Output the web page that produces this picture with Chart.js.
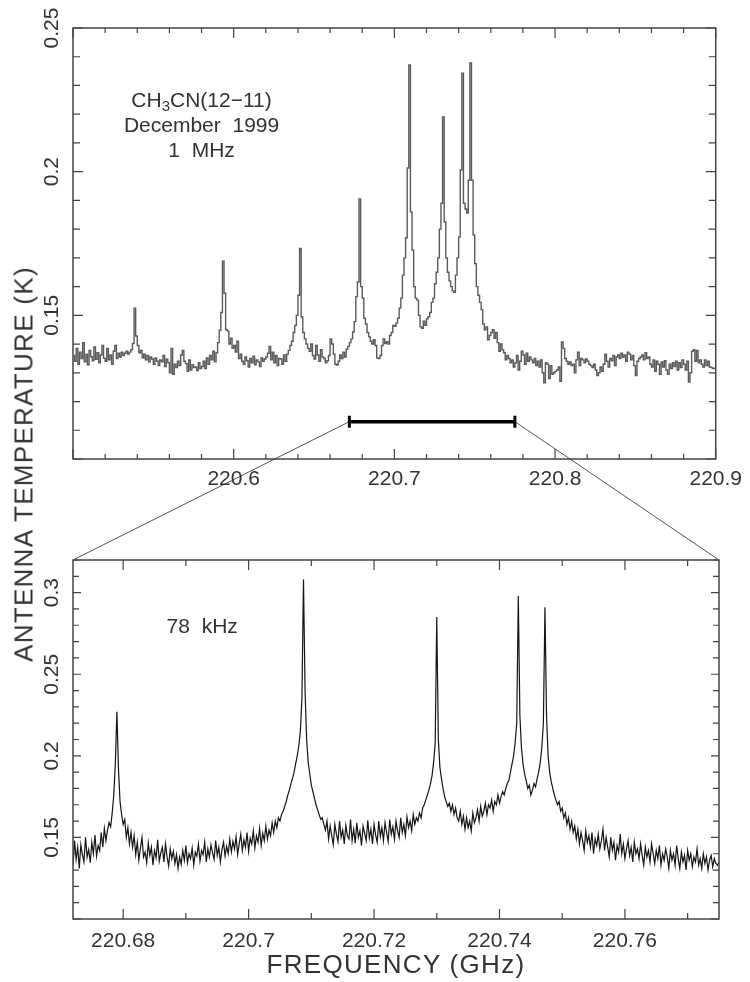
<!DOCTYPE html>
<html>
<head>
<meta charset="utf-8">
<script src="https://cdn.jsdelivr.net/npm/chart.js@4.4.1/dist/chart.umd.min.js"></script>
<style>
  html, body { margin: 0; padding: 0; background: #fff; }
  #page { position: relative; width: 750px; height: 982px; overflow: hidden;
          font-family: "Liberation Sans", Arial, sans-serif; color: #333; }
  canvas { position: absolute; left: 0; top: 0; }
  .axis-title { position: absolute; white-space: nowrap; font-size: 26px; letter-spacing: 1.3px;
                transform: translate(-50%, -50%); }
  #ytitle { left: 24px; top: 464px; transform: translate(-50%, -50%) rotate(-90deg); }
  #xtitle { left: 396px; top: 964px; }
</style>
</head>
<body>
<div id="page">
  <canvas id="zoomChart" width="750" height="982"></canvas>
  <canvas id="wideChart" width="750" height="500"></canvas>
  <div class="axis-title" id="ytitle">ANTENNA TEMPERATURE (K)</div>
  <div class="axis-title" id="xtitle">FREQUENCY (GHz)</div>
</div>
<script>
// CH3CN(12-11), 1 MHz channels, first channel centre 220.5005 GHz
const wideStart = 220.5005;
const wideStep = 0.001;
const wideTemp = [
  0.1360,0.1340,0.1385,0.1330,0.1372,0.1350,0.1405,0.1338,0.1365,0.1328,0.1378,0.1356,0.1342,0.1390,0.1347,0.1370,0.1335,0.1362,0.1395,0.1351,
  0.1340,0.1385,0.1345,0.1362,0.1330,0.1375,0.1395,0.1350,0.1368,0.1355,0.1372,0.1360,0.1368,0.1375,0.1365,0.1372,0.1380,0.1402,0.1525,0.1428,
  0.1395,0.1370,0.1378,0.1352,0.1365,0.1345,0.1360,0.1338,0.1355,0.1348,0.1330,0.1352,0.1340,0.1325,0.1345,0.1338,0.1360,0.1322,0.1347,0.1335,
  0.1300,0.1385,0.1295,0.1330,0.1318,0.1340,0.1325,0.1362,0.1378,0.1340,0.1332,0.1305,0.1345,0.1310,0.1328,0.1318,0.1320,0.1308,0.1335,0.1315,
  0.1322,0.1340,0.1315,0.1352,0.1330,0.1360,0.1345,0.1375,0.1338,0.1370,0.1405,0.1448,0.1510,0.1688,0.1577,0.1450,0.1445,0.1400,0.1420,0.1385,
  0.1395,0.1372,0.1410,0.1350,0.1365,0.1340,0.1330,0.1355,0.1342,0.1320,0.1350,0.1335,0.1358,0.1328,0.1345,0.1338,0.1322,0.1352,0.1340,0.1348,
  0.1355,0.1368,0.1392,0.1345,0.1372,0.1335,0.1360,0.1325,0.1350,0.1348,0.1330,0.1362,0.1340,0.1365,0.1378,0.1395,0.1410,0.1440,0.1465,0.1500,
  0.1570,0.1733,0.1494,0.1440,0.1418,0.1400,0.1385,0.1375,0.1400,0.1360,0.1348,0.1395,0.1362,0.1340,0.1380,0.1355,0.1350,0.1335,0.1342,0.1360,
  0.1418,0.1400,0.1365,0.1330,0.1327,0.1340,0.1362,0.1350,0.1372,0.1355,0.1382,0.1392,0.1405,0.1418,0.1442,0.1478,0.1565,0.1616,0.1905,0.1600,
  0.1560,0.1490,0.1470,0.1440,0.1425,0.1410,0.1400,0.1415,0.1395,0.1352,0.1350,0.1360,0.1395,0.1418,0.1402,0.1408,0.1400,0.1430,0.1440,0.1465,
  0.1462,0.1473,0.1490,0.1525,0.1560,0.1640,0.1700,0.1770,0.2013,0.2371,0.1860,0.1727,0.1600,0.1560,0.1553,0.1500,0.1460,0.1455,0.1480,0.1465,
  0.1488,0.1495,0.1510,0.1545,0.1560,0.1610,0.1650,0.1700,0.1800,0.1890,0.2190,0.1825,0.1700,0.1650,0.1620,0.1600,0.1585,0.1580,0.1640,0.1700,
  0.1773,0.2006,0.2343,0.1890,0.1870,0.1856,0.1970,0.2378,0.1970,0.1780,0.1680,0.1600,0.1570,0.1545,0.1520,0.1470,0.1450,0.1460,0.1415,0.1430,
  0.1440,0.1450,0.1420,0.1440,0.1405,0.1375,0.1400,0.1380,0.1370,0.1345,0.1360,0.1350,0.1335,0.1345,0.1320,0.1335,0.1360,0.1310,0.1340,0.1375,
  0.1362,0.1330,0.1368,0.1340,0.1355,0.1345,0.1335,0.1350,0.1325,0.1340,0.1320,0.1345,0.1300,0.1265,0.1335,0.1330,0.1280,0.1325,0.1295,0.1300,
  0.1305,0.1310,0.1320,0.1270,0.1407,0.1385,0.1350,0.1340,0.1330,0.1338,0.1325,0.1330,0.1300,0.1345,0.1372,0.1325,0.1350,0.1345,0.1335,0.1348,
  0.1340,0.1330,0.1325,0.1318,0.1330,0.1310,0.1290,0.1300,0.1320,0.1305,0.1330,0.1365,0.1340,0.1320,0.1350,0.1342,0.1360,0.1325,0.1355,0.1362,
  0.1350,0.1368,0.1355,0.1362,0.1340,0.1372,0.1365,0.1345,0.1360,0.1325,0.1290,0.1340,0.1350,0.1355,0.1362,0.1345,0.1370,0.1350,0.1355,0.1330,
  0.1320,0.1345,0.1305,0.1340,0.1330,0.1295,0.1338,0.1320,0.1342,0.1310,0.1295,0.1330,0.1315,0.1335,0.1322,0.1340,0.1310,0.1335,0.1318,0.1345,
  0.1330,0.1310,0.1340,0.1268,0.1300,0.1375,0.1380,0.1340,0.1378,0.1335,0.1345,0.1330,0.1320,0.1345,0.1325,0.1340,0.1320,0.1318,0.1315,0.1316
];

const zoomStart = 220.672;
const zoomStep = 0.00025;
const zoomTemp = [
  0.1330,0.1480,0.1365,0.1440,0.1310,0.1455,0.1395,0.1350,0.1500,0.1380,0.1425,0.1345,0.1470,0.1400,0.1515,0.1385,0.1450,0.1420,
  0.1530,0.1440,0.1555,0.1480,0.1545,0.1590,0.1565,0.1650,0.1760,0.1950,
  0.2270,
  0.1920,0.1720,0.1640,0.1580,0.1610,0.1500,0.1560,0.1460,0.1530,0.1440,0.1510,
  0.1395,0.1470,0.1360,0.1435,0.1500,0.1380,0.1410,0.1345,0.1465,0.1390,0.1440,0.1330,0.1420,0.1375,0.1485,0.1355,0.1405,0.1440,0.1350,0.1460,
  0.1380,0.1325,0.1430,0.1370,0.1415,0.1340,0.1395,0.1310,0.1380,0.1335,0.1420,0.1360,0.1450,0.1345,0.1400,0.1370,0.1435,0.1330,0.1410,0.1385,
  0.1460,0.1355,0.1420,0.1395,0.1470,0.1350,0.1430,0.1380,0.1455,0.1405,0.1365,0.1480,0.1390,0.1440,0.1350,0.1425,0.1470,0.1385,0.1445,0.1400,
  0.1490,0.1410,0.1475,0.1430,0.1505,0.1395,0.1460,0.1520,0.1420,0.1485,0.1440,0.1530,0.1415,0.1495,0.1460,0.1540,0.1435,0.1510,0.1470,0.1555,
  0.1450,0.1525,0.1480,0.1570,0.1490,0.1545,0.1510,0.1590,0.1530,0.1600,0.1560,0.1620,0.1600,0.1640,0.1660,0.1690,0.1720,0.1760,0.1790,0.1830,
  0.1860,0.1900,0.1950,0.2000,0.2060,0.2150,0.2350,
  0.3080,
  0.2400,0.2100,0.1960,0.1890,0.1820,0.1780,0.1740,0.1700,0.1670,0.1640,0.1610,0.1620,0.1580,
  0.1545,0.1600,0.1490,0.1570,0.1510,0.1455,0.1580,0.1520,0.1475,0.1600,0.1500,0.1545,0.1460,0.1575,0.1510,0.1490,0.1610,0.1480,0.1550,0.1465,
  0.1590,0.1500,0.1540,0.1450,0.1570,0.1525,0.1480,0.1605,0.1495,0.1550,0.1460,0.1580,0.1515,0.1470,0.1600,0.1505,0.1560,0.1480,0.1590,0.1530,
  0.1475,0.1610,0.1520,0.1565,0.1490,0.1600,0.1540,0.1500,0.1620,0.1530,0.1580,0.1510,0.1625,0.1560,0.1600,0.1540,0.1640,0.1580,0.1620,0.1600,
  0.1650,0.1620,0.1680,0.1700,0.1730,0.1760,0.1790,0.1830,0.1880,0.1960,0.2080,
  0.2850,
  0.2100,0.1930,0.1860,0.1800,0.1750,0.1720,0.1690,0.1710,0.1660,0.1700,0.1640,0.1680,0.1620,
  0.1600,0.1660,0.1580,0.1630,0.1550,0.1620,0.1560,0.1600,0.1540,0.1650,0.1590,0.1620,0.1670,0.1600,0.1690,0.1630,0.1660,0.1710,0.1640,0.1700,
  0.1680,0.1730,0.1660,0.1720,0.1700,0.1760,0.1710,0.1750,0.1780,0.1760,0.1800,0.1830,0.1850,0.1900,0.1950,0.2000,0.2080,0.2200,
  0.2980,
  0.2250,0.2050,0.1950,0.1890,0.1850,0.1800,0.1820,0.1760,0.1790,0.1830,0.1810,0.1860,0.1900,0.1960,0.2050,0.2200,
  0.2910,
  0.2250,0.2000,0.1900,0.1840,0.1800,0.1760,0.1730,0.1700,0.1720,0.1660,0.1680,0.1620,0.1650,0.1580,0.1620,0.1550,0.1600,0.1530,0.1570,
  0.1490,0.1550,0.1460,0.1530,0.1480,0.1420,0.1540,0.1470,0.1510,0.1440,0.1530,0.1400,0.1490,0.1450,0.1520,0.1430,0.1480,0.1550,0.1420,0.1500,
  0.1440,0.1380,0.1500,0.1420,0.1470,0.1360,0.1450,0.1410,0.1520,0.1400,0.1460,0.1370,0.1430,0.1480,0.1390,0.1440,0.1350,0.1470,0.1400,0.1430,
  0.1370,0.1460,0.1390,0.1330,0.1440,0.1380,0.1420,0.1350,0.1460,0.1400,0.1340,0.1420,0.1370,0.1450,0.1330,0.1400,0.1360,0.1430,0.1380,0.1310,
  0.1420,0.1360,0.1400,0.1330,0.1450,0.1370,0.1310,0.1410,0.1350,0.1390,0.1300,0.1420,0.1360,0.1400,0.1320,0.1380,0.1350,0.1430,0.1330,0.1370,
  0.1310,0.1400,0.1340,0.1380,0.1300,0.1360,0.1390,0.1320,0.1370,0.1340,0.1330,0.1350
];

// part of the wide band shown below, and where its marker bar sits
const zoomRange = [220.672, 220.775];
const zoomBarLevel = 0.113;

// labelled ticks
const wideXLabels = [220.6, 220.7, 220.8, 220.9];
const wideYLabels = [0.15, 0.2, 0.25];
const zoomXLabels = [220.68, 220.7, 220.72, 220.74, 220.76];
const zoomYLabels = [0.15, 0.2, 0.25, 0.3];

Chart.defaults.font.family = '"Liberation Sans", Arial, sans-serif';
Chart.defaults.color = '#333';

const fmt = v => String(+v.toFixed(3));
const labelFrom = list => v => list.some(t => Math.abs(t - v) < 1e-6) ? fmt(v) : '';

// inward tick marks on all four sides plus the box
function frameTicks(o) {
  return {
    id: 'frameTicks',
    afterDatasetsDraw(chart) {
      const { ctx, chartArea: a, scales: { x, y } } = chart;
      const isMajor = (v, m) => Math.abs(v / m - Math.round(v / m)) < 1e-4;
      ctx.save();
      ctx.strokeStyle = '#444';
      ctx.lineWidth = 1.2;
      ctx.beginPath();
      for (let k = Math.ceil(x.min / o.xMinor - 1e-6); k * o.xMinor <= x.max + 1e-9; k++) {
        const v = k * o.xMinor;
        const px = x.getPixelForValue(v);
        const len = isMajor(v, o.xMajor) ? o.xLong : o.xShort;
        ctx.moveTo(px, a.bottom); ctx.lineTo(px, a.bottom - len);
        ctx.moveTo(px, a.top); ctx.lineTo(px, a.top + len);
      }
      for (let k = Math.ceil(y.min / o.yMinor - 1e-6); k * o.yMinor <= y.max + 1e-9; k++) {
        const v = k * o.yMinor;
        const py = y.getPixelForValue(v);
        const len = isMajor(v, o.yMajor) ? o.yLong : o.yShort;
        ctx.moveTo(a.left, py); ctx.lineTo(a.left + len, py);
        ctx.moveTo(a.right, py); ctx.lineTo(a.right - len, py);
      }
      ctx.stroke();
      ctx.lineWidth = 1.5;
      ctx.strokeRect(a.left, a.top, a.right - a.left, a.bottom - a.top);
      ctx.restore();
    }
  };
}

// text lines; a part given as [text, true] is set as a subscript
function notes(lines) {
  return {
    id: 'notes',
    afterDraw(chart) {
      const { ctx, scales: { x, y } } = chart;
      const big = '21px "Liberation Sans", Arial, sans-serif';
      const small = '15px "Liberation Sans", Arial, sans-serif';
      ctx.save();
      ctx.fillStyle = '#333';
      ctx.textBaseline = 'middle';
      ctx.textAlign = 'left';
      lines.forEach(line => {
        const cx = x.getPixelForValue(line.x);
        const cy = y.getPixelForValue(line.y) + line.dy;
        let w = 0;
        line.parts.forEach(([t, sub]) => { ctx.font = sub ? small : big; w += ctx.measureText(t).width; });
        let px = cx - w / 2;
        line.parts.forEach(([t, sub]) => {
          ctx.font = sub ? small : big;
          ctx.fillText(t, px, cy + (sub ? 6 : 0));
          px += ctx.measureText(t).width;
        });
      });
      ctx.restore();
    }
  };
}

function axisOptions(xMin, xMax, xStep, xLabels, xHeight, xPad, yMin, yMax, yLabels) {
  return {
    x: {
      type: 'linear', min: xMin, max: xMax,
      grid: { display: false, drawTicks: false }, border: { display: false },
      ticks: { stepSize: xStep, includeBounds: false, autoSkip: false, maxRotation: 0,
               padding: xPad, font: { size: 21 }, color: '#333', callback: labelFrom(xLabels) },
      afterFit: s => { s.height = xHeight; }
    },
    y: {
      type: 'linear', min: yMin, max: yMax,
      grid: { display: false, drawTicks: false }, border: { display: false },
      ticks: { stepSize: 0.05, includeBounds: false, autoSkip: false, minRotation: 90, maxRotation: 90,
               crossAlign: 'center', padding: 0, font: { size: 21 }, color: '#333', callback: labelFrom(yLabels) },
      afterFit: s => { s.width = 73; }
    }
  };
}

const wideChart = new Chart(document.getElementById('wideChart'), {
  type: 'line',
  data: {
    datasets: [
      {
        data: wideTemp.map((t, i) => ({ x: wideStart + i * wideStep, y: t })),
        stepped: 'middle', borderColor: '#5a5a5a', borderWidth: 1.4, pointRadius: 0
      },
      {
        data: zoomRange.map(f => ({ x: f, y: zoomBarLevel })),
        borderColor: '#000', borderWidth: 3.5,
        pointStyle: 'line', rotation: 90, pointRadius: 6, pointBorderWidth: 3, pointBorderColor: '#000'
      }
    ]
  },
  options: {
    responsive: false, animation: false,
    layout: { padding: { left: 0, top: 28, right: 31, bottom: 0 } },
    plugins: { legend: { display: false }, tooltip: { enabled: false } },
    scales: axisOptions(220.5, 220.9, 0.1, wideXLabels, 41, 8, 0.1, 0.25, wideYLabels)
  },
  plugins: [
    frameTicks({ xMinor: 0.02, xMajor: 0.1, xLong: 10, xShort: 5, yMinor: 0.01, yMajor: 0.05, yLong: 10, yShort: 7 }),
    notes([
      { x: 220.58, y: 0.2246, dy: 0, parts: [['CH'], ['3', true], ['CN(12\u221211)']] },
      { x: 220.58, y: 0.2246, dy: 25, parts: [['December  1999']] },
      { x: 220.58, y: 0.2246, dy: 50, parts: [['1  MHz']] }
    ])
  ]
});

// lines from the marker bar down to the corners of the lower panel
const connectors = {
  id: 'connectors',
  afterDraw(chart) {
    const { ctx, chartArea: a } = chart;
    const wx = wideChart.scales.x, wy = wideChart.scales.y;
    const yb = wy.getPixelForValue(zoomBarLevel);
    ctx.save();
    ctx.strokeStyle = '#555';
    ctx.lineWidth = 1;
    ctx.beginPath();
    ctx.moveTo(wx.getPixelForValue(zoomRange[0]), yb); ctx.lineTo(a.left, a.top);
    ctx.moveTo(wx.getPixelForValue(zoomRange[1]), yb); ctx.lineTo(a.right, a.top);
    ctx.stroke();
    ctx.restore();
  }
};

new Chart(document.getElementById('zoomChart'), {
  type: 'line',
  data: {
    datasets: [{
      data: zoomTemp.map((t, i) => ({ x: zoomStart + i * zoomStep, y: t })),
      borderColor: '#151515', borderWidth: 1.2, pointRadius: 0
    }]
  },
  options: {
    responsive: false, animation: false,
    layout: { padding: { left: 0, top: 560, right: 31, bottom: 0 } },
    plugins: { legend: { display: false }, tooltip: { enabled: false } },
    scales: axisOptions(zoomRange[0], zoomRange[1], 0.02, zoomXLabels, 63, 10, 0.1, 0.32, zoomYLabels)
  },
  plugins: [
    frameTicks({ xMinor: 0.01, xMajor: 0.02, xLong: 10, xShort: 6, yMinor: 0.01, yMajor: 0.05, yLong: 8, yShort: 6 }),
    notes([{ x: 220.6926, y: 0.2787, dy: 0, parts: [['78  kHz']] }]),
    connectors
  ]
});
</script>
</body>
</html>
